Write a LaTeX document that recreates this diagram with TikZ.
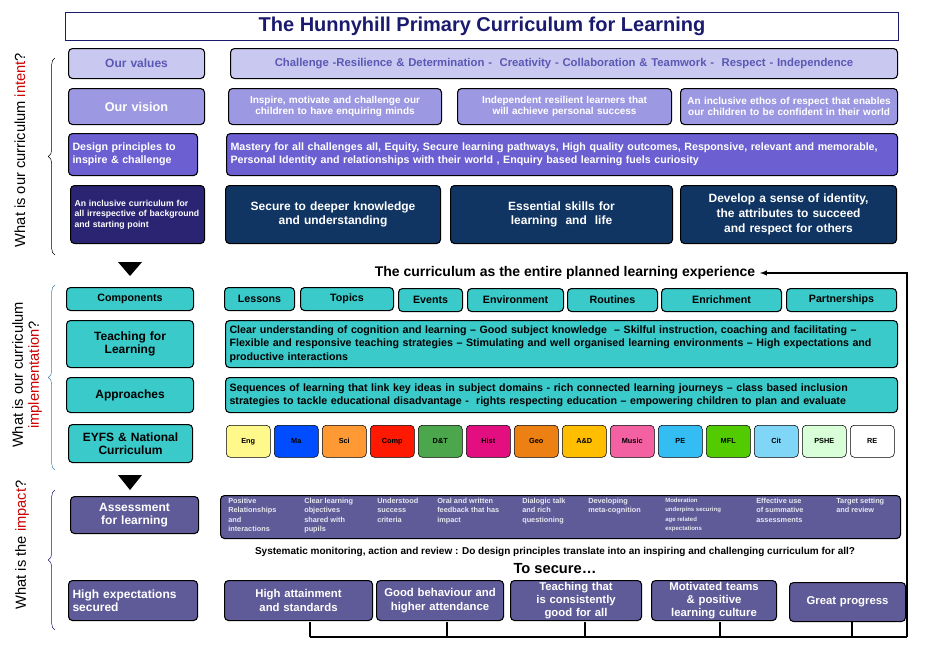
\documentclass[tikz,border=0pt]{standalone}
\usepackage{fontspec}
\setmainfont{Liberation Sans}
\usetikzlibrary{positioning, decorations.pathreplacing}
\definecolor{navytitle}{HTML}{1A1A6E}
\definecolor{valfill}{HTML}{C9C8F0}
\definecolor{valtext}{HTML}{5A58B4}
\definecolor{visfill}{HTML}{9D98E2}
\definecolor{desfill}{HTML}{6B5FD2}
\definecolor{incfill}{HTML}{2A2472}
\definecolor{navyfill}{HTML}{103562}
\definecolor{tealfill}{HTML}{3ACACA}
\definecolor{assfill}{HTML}{5F5B98}
\newcommand{\bx}[7]{%
  \node[#6, anchor=north west, minimum width={(#4-#2)*0.75pt}, minimum height={(#5-#3)*0.75pt},
        text width={(#4-#2)*0.75pt-6pt}] (#1) at (#2,#3) {#7};}
\newcommand{\nohy}{\hyphenpenalty=10000\exhyphenpenalty=10000\relax}
\begin{document}
\begin{tikzpicture}[x=0.75pt, y=-0.75pt,
        basic/.style    = {draw, rounded corners=3pt, thick, align=center, inner sep=1pt, font=\bfseries\fontsize{8}{9.5}\selectfont\nohy},
        values/.style   = {basic, fill=valfill, text=valtext},
        vision/.style   = {basic, fill=visfill, text=white, font=\bfseries\fontsize{7.5}{8.5}\selectfont\nohy},
        design/.style   = {basic, fill=desfill, text=white, align=left},
        incl/.style     = {basic, fill=incfill, text=white, align=left, font=\bfseries\fontsize{6.5}{8}\selectfont\nohy},
        deep/.style     = {basic, fill=navyfill, text=white, font=\bfseries\fontsize{9}{11}\selectfont\nohy},
        teal/.style     = {basic, fill=tealfill, text=black},
        assess/.style   = {basic, fill=assfill, text=white, font=\bfseries\fontsize{8.5}{10}\selectfont\nohy},
        subj/.style     = {basic, thin, text=black, font=\bfseries\fontsize{5.5}{6}\selectfont},
        small/.style    = {anchor=north west, text=white!85!assfill, align=left, inner sep=0pt, font=\bfseries\fontsize{5.5}{7}\selectfont},
        side/.style     = {rotate=90, font=\fontsize{11}{12}\selectfont},
        >=latex]

    \useasboundingbox (0,0) rectangle (945,657);

    % title
    \node[draw=navytitle, thick, minimum width=833*0.75pt, minimum height=24*0.75pt, anchor=north west,
          text=navytitle, font=\bfseries\fontsize{15}{16}\selectfont] (title) at (65,12)
        {The Hunnyhill Primary Curriculum for Learning};

    % intent
    \bx{valL}{68}{48}{204}{78}{values, font=\bfseries\fontsize{9}{10}\selectfont}{Our values}
    \bx{valR}{230}{48}{897}{78}{values, font=\bfseries\fontsize{8.5}{10}\selectfont}{Challenge -Resilience \& Determination -\ \ Creativity - Collaboration \& Teamwork -\ \ Respect - Independence}
    \bx{visL}{68}{88}{204}{124}{vision, font=\bfseries\fontsize{9.5}{10}\selectfont}{Our vision}
    \bx{vis1}{228}{88}{441}{124}{vision}{Inspire, motivate and challenge our children to have enquiring minds}
    \bx{vis2}{457}{88}{671}{124}{vision}{Independent resilient learners that will achieve personal success}
    \bx{vis3}{680}{88}{897}{124}{vision}{An inclusive ethos of respect that enables our children to be confident in their world}
    \bx{desL}{68}{133}{197}{175}{design}{Design principles to inspire \& challenge}
    \bx{desR}{226}{133}{897}{175}{design, font=\bfseries\fontsize{8}{10}\selectfont\nohy}{Mastery for all challenges all, Equity, Secure learning pathways, High quality outcomes, Responsive, relevant and memorable, Personal Identity and relationships with their world , Enquiry based learning fuels curiosity}
    \bx{incL}{70}{185}{204}{243}{incl}{An inclusive curriculum for all irrespective of background and starting point}
    \bx{inc1}{225}{185}{440}{243}{deep}{Secure to deeper knowledge and understanding\\[8pt]}
    \bx{inc2}{450}{185}{672}{243}{deep}{Essential skills for\\learning\ \ and\ \ life\\[8pt]}
    \bx{inc3}{680}{185}{896}{243}{deep}{Develop a sense of identity, the attributes to succeed and respect for others}

    \fill (118,262) -- (142,262) -- (130,276) -- cycle;

    % implementation
    \node[font=\bfseries\fontsize{10.5}{12}\selectfont] (plan) at (565,273) {The curriculum as the entire planned learning experience};
    \coordinate (cr) at (907,637);
    \coordinate (bl) at (310,637);
    \draw[thick] (cr) -- (bl);
    \draw[thick, ->] (cr) |- (plan.east);
    \foreach \x in {310,447,585,720,852}
        \draw[thick] (\x,637) -- (\x,622);

    \bx{comp}{66}{287}{193}{310}{teal}{Components}
    \bx{c1}{224}{287}{294}{310}{teal}{Lessons}
    \bx{c2}{300}{287}{393}{310}{teal}{Topics}
    \bx{c3}{398}{288}{462}{311}{teal}{Events}
    \bx{c4}{467}{288}{563}{311}{teal}{Environment}
    \bx{c5}{567}{288}{657}{311}{teal}{Routines}
    \bx{c6}{661}{288}{781}{311}{teal}{Enrichment}
    \bx{c7}{786}{288}{896}{311}{teal}{Partnerships}
    \bx{tchL}{66}{320}{193}{367}{teal, font=\bfseries\fontsize{9}{10}\selectfont}{Teaching for Learning}
    \bx{tchR}{225}{320}{897}{367}{teal, align=left, font=\bfseries\fontsize{8}{10}\selectfont\nohy}{Clear understanding of cognition and learning -- Good subject knowledge\ \ -- Skilful instruction, coaching and facilitating -- Flexible and responsive teaching strategies -- Stimulating and well organised learning environments -- High expectations and productive interactions}
    \bx{appL}{66}{377}{193}{412}{teal, font=\bfseries\fontsize{9}{10}\selectfont}{Approaches}
    \bx{appR}{225}{377}{897}{412}{teal, align=left, font=\bfseries\fontsize{8}{10}\selectfont\nohy}{Sequences of learning that link key ideas in subject domains - rich connected learning journeys -- class based inclusion strategies to tackle educational disadvantage -\ \ rights respecting education -- empowering children to plan and evaluate}
    \bx{eyfs}{68}{424}{192}{462}{teal, font=\bfseries\fontsize{9}{10}\selectfont}{EYFS \& National Curriculum}
    \foreach \n/\s/\c [count=\i from 0, evaluate=\i as \xa using int(226+48*\i), evaluate=\i as \xb using int(270+48*\i)] in {eng/Eng/yellow!45, ma/Ma/blue!70!cyan, sci/Sci/orange!80, comp/Comp/red!80!orange, dt/D\&T/green!50!black!70, hist/Hist/magenta!80!purple, geo/Geo/orange!70!brown, ad/A\&D/orange!50!yellow, mus/Music/magenta!50!pink, pe/PE/cyan!80, mfl/MFL/green!60!yellow!80!black, cit/Cit/cyan!50, pshe/PSHE/green!15, re/RE/white}
        {\bx{\n}{\xa}{425}{\xb}{457}{subj, fill=\c}{\s}}

    \fill (118,475) -- (142,475) -- (130,490) -- cycle;

    % impact
    \bx{assL}{70}{496}{198}{533}{assess, font=\bfseries\fontsize{9}{10}\selectfont}{Assessment for learning}
    \bx{assR}{220}{495}{900}{538}{assess}{}
    \foreach \x/\t in {228/{Positive\\Relationships\\and\\interactions}, 304/{Clear learning\\objectives\\shared with\\pupils}, 377/{Understood\\success\\criteria}, 437/{Oral and written\\feedback that has\\impact}, 522/{Dialogic talk\\and rich\\questioning}, 588/{Developing\\meta-cognition}, 665/{\fontsize{4.5}{6}\selectfont Moderation\\\fontsize{4.5}{6}\selectfont underpins securing\\\fontsize{4.5}{6}\selectfont age related\\\fontsize{4.5}{6}\selectfont expectations}, 756/{Effective use\\of summative\\assessments}, 836/{Target setting\\and review}}
        \node[small] at (\x,498) {\t};
    \node[font=\bfseries\fontsize{7.5}{9}\selectfont] (sys) at (555,552) {Systematic monitoring, action and review : Do design principles translate into an inspiring and challenging curriculum for all?};
    \node[font=\bfseries\fontsize{11}{12}\selectfont, below=-2pt of sys] (secure) {To secure\dots};
    \bx{hiL}{68}{580}{197}{620}{assess, align=left, font=\bfseries\fontsize{9}{10}\selectfont}{High expectations secured}
    \bx{h1}{224}{580}{372}{620}{assess}{High attainment and standards}
    \bx{h2}{376}{580}{503}{620}{assess}{Good behaviour and higher attendance}
    \bx{h3}{510}{580}{641}{620}{assess}{Teaching that is consistently good for all}
    \bx{h4}{651}{580}{776}{620}{assess}{Motivated teams \& positive learning culture}
    \bx{h5}{789}{582}{905}{621}{assess}{Great progress}

    % side labels
    \node[side] at (20,150) {What is our curriculum \textcolor{red!80!black}{intent}?};
    \node[side, align=center] at (27,375) {What is our curriculum\\\textcolor{red!80!black}{implementation}?};
    \node[side] at (22,545) {What is the \textcolor{red!80!black}{impact}?};
    \draw[decorate, decoration={brace, amplitude=5pt}, thin] (55,255) -- (55,58);
    \draw[decorate, decoration={brace, amplitude=5pt}, thin, cyan!60!black] (55,470) -- (55,285);
    \draw[decorate, decoration={brace, amplitude=5pt}, thin, navytitle] (55,630) -- (55,490);
\end{tikzpicture}
\end{document}
